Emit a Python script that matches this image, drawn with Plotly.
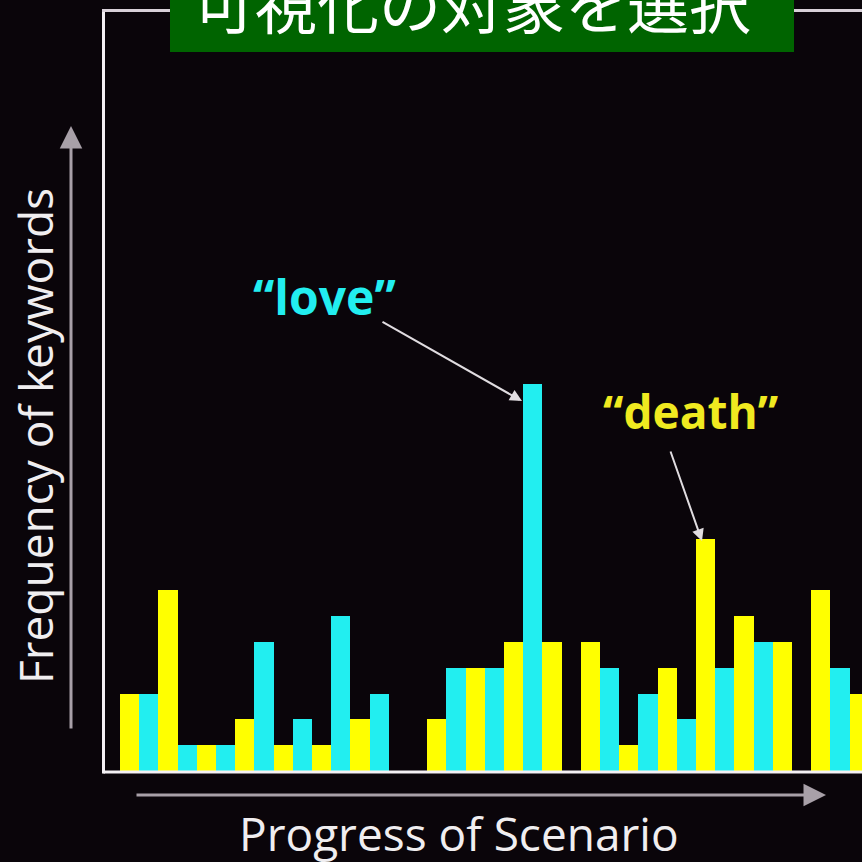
import plotly.graph_objects as go

scenes = list(range(20))
death = [3, 7, 1, 2, 1, 1, 2, 0, 2, 4, 5, 5, 5, 1, 4, 9, 6, 5, 7, 3]
love = [3, 1, 1, 5, 2, 6, 3, 0, 4, 4, 15, 0, 4, 3, 2, 4, 5, 0, 4, None]

title_text = "可視化の対象を選択"
y_label = "Frequency of keywords"
x_label = "Progress of Scenario"

BG = "#0a050a"
YEL = "#ffff00"
CYN = "#22eef0"
W, H = 862, 862

def px(x):
    return x / W

def py(y):
    return 1 - y / H

fig = go.Figure()
fig.add_trace(go.Bar(x=scenes, y=death, name="death", marker=dict(color=YEL, line=dict(width=0))))
fig.add_trace(go.Bar(x=scenes, y=love, name="love", marker=dict(color=CYN, line=dict(width=0))))

fig.update_layout(
    width=W, height=H,
    margin=dict(l=0, r=0, t=0, b=0),
    paper_bgcolor=BG, plot_bgcolor=BG,
    barmode="group", bargap=0, bargroupgap=0,
    showlegend=False,
    xaxis=dict(domain=[px(103), 1], range=[-0.9427, 18.823], showgrid=False,
               zeroline=False, showticklabels=False, ticks=""),
    yaxis=dict(domain=[py(771), py(10)], range=[0, 29.5], showgrid=False,
               zeroline=False, showticklabels=False, ticks=""),
)

line_col = "#f4f0f4"
shapes = [
    dict(type="line", xref="paper", yref="paper", x0=px(103.5), x1=1.01, y0=py(772), y1=py(772),
         line=dict(color=line_col, width=3)),
    dict(type="line", xref="paper", yref="paper", x0=px(103.5), x1=px(103.5), y0=py(773.5), y1=py(9.5),
         line=dict(color=line_col, width=3)),
    dict(type="line", xref="paper", yref="paper", x0=px(102), x1=1.01, y0=py(10.5), y1=py(10.5),
         line=dict(color="#d8d0d8", width=3)),
    dict(type="rect", xref="paper", yref="paper", x0=px(170), x1=px(794), y0=py(52), y1=1.02,
         fillcolor="#006400", line=dict(width=0)),
]
fig.update_layout(shapes=shapes)

arrow_col = "#a8a0a8"
ann = [
    # title
    dict(xref="paper", yref="paper", x=px(472), y=py(2), text=title_text, showarrow=False,
         xanchor="center", yanchor="middle",
         font=dict(family="Noto Sans CJK JP", size=62, color="white")),
    # y axis label
    dict(xref="paper", yref="paper", x=px(35), y=py(436), text=y_label, showarrow=False,
         textangle=-90, xanchor="center", yanchor="middle",
         font=dict(family="Open Sans", size=46, color="#f0eef0")),
    # x axis label
    dict(xref="paper", yref="paper", x=px(459), y=py(833), text=x_label, showarrow=False,
         xanchor="center", yanchor="middle",
         font=dict(family="Open Sans", size=46, color="#f0eef0")),
    # y axis arrow
    dict(xref="paper", yref="paper", x=px(71), y=py(126), ax=0, ay=604, axref="pixel", ayref="pixel",
         text="", showarrow=True, arrowhead=2, arrowsize=1.5, arrowwidth=3, arrowcolor=arrow_col),
    # x axis arrow
    dict(xref="paper", yref="paper", x=px(826), y=py(795), ax=-691, ay=0, axref="pixel", ayref="pixel",
         text="", showarrow=True, arrowhead=2, arrowsize=1.5, arrowwidth=3, arrowcolor=arrow_col),
    # love label + arrow
    dict(xref="x", yref="y", x=(324 - 139.2) / 38.4, y=(771 - 296) / 25.8, text="“love”",
         showarrow=False, xanchor="center", yanchor="middle",
         font=dict(family="Open Sans", size=48, color=CYN, weight="bold")),
    dict(xref="x", yref="y", x=(522 - 139.2) / 38.4, y=(771 - 401) / 25.8, ax=-141, ay=-80,
         text="", showarrow=True, arrowhead=2, arrowsize=1.2, arrowwidth=2, arrowcolor="#e0dce0"),
    # death label + arrow
    dict(xref="x", yref="y", x=(690 - 139.2) / 38.4, y=(771 - 411) / 25.8, text="“death”",
         showarrow=False, xanchor="center", yanchor="middle",
         font=dict(family="Open Sans", size=46, color="#f0ea20", weight="bold")),
    dict(xref="x", yref="y", x=(702 - 139.2) / 38.4, y=(771 - 541) / 25.8, ax=-32, ay=-91,
         text="", showarrow=True, arrowhead=2, arrowsize=1.2, arrowwidth=2, arrowcolor="#e0dce0"),
]
fig.update_layout(annotations=ann)

fig.write_html(
    "out.html",
    config={"displayModeBar": False},
    post_script="document.body.style.margin='0';document.body.style.background='#0a050a';",
)
